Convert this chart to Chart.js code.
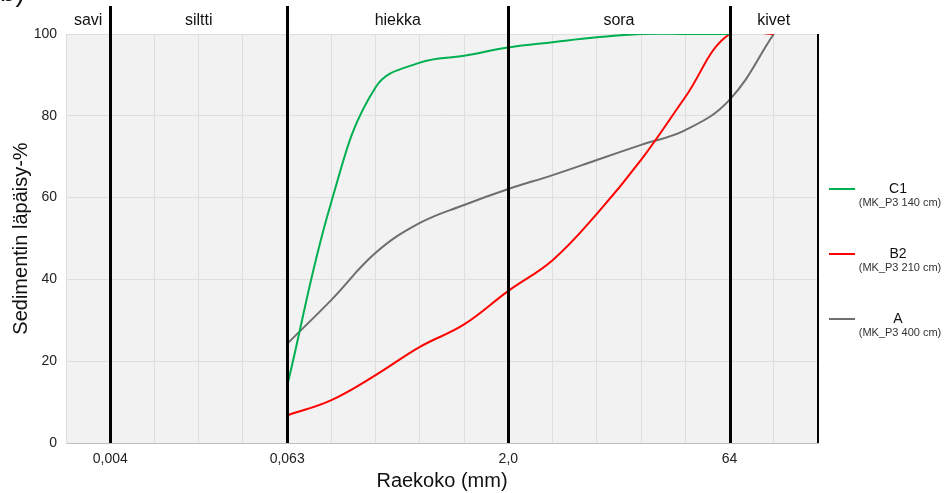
<!DOCTYPE html>
<html>
<head>
<meta charset="utf-8">
<script src="https://cdn.jsdelivr.net/npm/chart.js@4.4.1/dist/chart.umd.min.js"></script>
<style>
  html, body { margin: 0; padding: 0; background: #fff; }
  #wrap { width: 950px; height: 493px; }
</style>
</head>
<body>
<div id="wrap"><canvas id="chart" width="950" height="493"></canvas></div>
<script>
// sieve sizes (mm) and passing percentages
const sieveSizes = [0.063, 0.125, 0.25, 0.5, 1, 2, 4, 8, 16, 32, 64, 128]
const c1Values = [14.5, 59, 87, 93, 94.7, 96.7, 98, 99.2, 100, 100, 100, null]
const b2Values = [6.8, 10.5, 16.6, 23.5, 29, 37.2, 44.7, 56, 69.2, 84.6, 100, 100]
const aValues = [24.4, 35, 46.5, 53.8, 58.2, 62.1, 65.5, 69.2, 72.9, 76.5, 83.9, 100]

const seriesNames = ['C1', 'B2', 'A']
const seriesNotes = ['(MK_P3 140 cm)', '(MK_P3 210 cm)', '(MK_P3 400 cm)']
const seriesColors = ['#00b050', '#ff0000', '#6e6e6e']

// x grid: every doubling of grain size
const xGridValues = [0.001953125, 0.00390625, 0.0078125, 0.015625, 0.03125, 0.0625, 0.125, 0.25, 0.5, 1, 2, 4, 8, 16, 32, 64, 128, 256]
const xLabelValues = [0.00390625, 0.0625, 2, 64]
const xLabelTexts = ['0,004', '0,063', '2,0', '64']
const zoneNames = ['savi', 'siltti', 'hiekka', 'sora', 'kivet']

const toPoints = values => sieveSizes.map((s, i) => ({ x: s, y: values[i] }))

const bgPlugin = {
    id: 'bg',
    beforeDraw(chart) {
        const { ctx, chartArea: a } = chart
        ctx.save()
        ctx.fillStyle = '#f2f2f2'
        ctx.fillRect(a.left, a.top, a.right - a.left, a.bottom - a.top)
        ctx.restore()
    }
}

const zonePlugin = {
    id: 'zones',
    afterDatasetsDraw(chart) {
        const { ctx, chartArea: a } = chart
        const xs = chart.scales.x
        ctx.save()
        ctx.strokeStyle = '#000'
        ctx.lineWidth = 3
        xLabelValues.forEach(v => {
            const px = Math.round(xs.getPixelForValue(v)) + 0.5
            ctx.beginPath()
            ctx.moveTo(px, 6)
            ctx.lineTo(px, a.bottom)
            ctx.stroke()
        })
        // right frame line
        ctx.lineWidth = 2
        ctx.beginPath()
        ctx.moveTo(a.right, a.top)
        ctx.lineTo(a.right, a.bottom)
        ctx.stroke()

        const edges = [xs.min].concat(xLabelValues, [xs.max])
        ctx.fillStyle = '#111'
        ctx.font = '16px "Liberation Sans", Arial, sans-serif'
        ctx.textAlign = 'center'
        ctx.textBaseline = 'middle'
        zoneNames.forEach((name, i) => {
            const mid = (xs.getPixelForValue(edges[i]) + xs.getPixelForValue(edges[i + 1])) / 2
            ctx.fillText(name, mid, 21)
        })

        // panel letter, cut off at the top
        ctx.textAlign = 'left'
        ctx.textBaseline = 'alphabetic'
        ctx.font = '28px "Liberation Sans", Arial, sans-serif'
        ctx.fillText('b)', 0, 1)
        ctx.restore()
    }
}

const legendPlugin = {
    id: 'sideLegend',
    afterDraw(chart) {
        const { ctx } = chart
        ctx.save()
        chart.data.datasets.forEach((ds, i) => {
            const y = 189 + i * 65
            ctx.strokeStyle = ds.borderColor
            ctx.lineWidth = 2
            ctx.beginPath()
            ctx.moveTo(829, y)
            ctx.lineTo(855, y)
            ctx.stroke()
            ctx.fillStyle = '#111'
            ctx.textAlign = 'center'
            ctx.textBaseline = 'middle'
            ctx.font = '14px "Liberation Sans", Arial, sans-serif'
            ctx.fillText(ds.label, 898, y)
            ctx.fillStyle = '#333'
            ctx.font = '11px "Liberation Sans", Arial, sans-serif'
            ctx.fillText(seriesNotes[i], 900, y + 14)
        })
        ctx.restore()
    }
}

const lineStyle = color => ({
    borderColor: color,
    backgroundColor: color,
    borderWidth: 2,
    pointRadius: 0,
    tension: 0.4,
    fill: false,
    spanGaps: false
})

new Chart(document.getElementById('chart'), {
    type: 'line',
    data: {
        datasets: [
            { label: seriesNames[0], data: toPoints(c1Values), ...lineStyle(seriesColors[0]) },
            { label: seriesNames[1], data: toPoints(b2Values), ...lineStyle(seriesColors[1]) },
            { label: seriesNames[2], data: toPoints(aValues), ...lineStyle(seriesColors[2]) }
        ]
    },
    options: {
        responsive: false,
        animation: false,
        layout: { padding: { top: 34, right: 132, left: 0, bottom: 0 } },
        elements: { line: { capBezierPoints: false } },
        plugins: {
            legend: { display: false },
            tooltip: { enabled: false }
        },
        scales: {
            x: {
                type: 'logarithmic',
                min: 0.001953125,
                max: 256,
                afterBuildTicks: s => { s.ticks = xGridValues.map(v => ({ value: v })) },
                afterFit: s => { s.height = 50 },
                grid: { color: '#dedede', drawTicks: false },
                border: { color: '#bfbfbf' },
                ticks: {
                    autoSkip: false,
                    maxRotation: 0,
                    padding: 8,
                    color: '#222',
                    font: { size: 14, family: '"Liberation Sans", Arial, sans-serif' },
                    callback: v => {
                        const i = xLabelValues.indexOf(v)
                        return i >= 0 ? xLabelTexts[i] : ''
                    }
                },
                title: {
                    display: true,
                    text: 'Raekoko (mm)',
                    color: '#111',
                    padding: { top: 0, bottom: 0 },
                    font: { size: 20, family: '"Liberation Sans", Arial, sans-serif' }
                }
            },
            y: {
                min: 0,
                max: 100,
                afterFit: s => { s.width = 66 },
                grid: { color: '#dedede', drawTicks: false },
                border: { color: '#dedede' },
                ticks: {
                    stepSize: 20,
                    padding: 9,
                    color: '#222',
                    font: { size: 14, family: '"Liberation Sans", Arial, sans-serif' }
                },
                title: {
                    display: true,
                    text: 'Sedimentin läpäisy-%',
                    color: '#111',
                    padding: { top: 9, bottom: 0 },
                    font: { size: 20, family: '"Liberation Sans", Arial, sans-serif' }
                }
            }
        }
    },
    plugins: [bgPlugin, zonePlugin, legendPlugin]
})
</script>
</body>
</html>
